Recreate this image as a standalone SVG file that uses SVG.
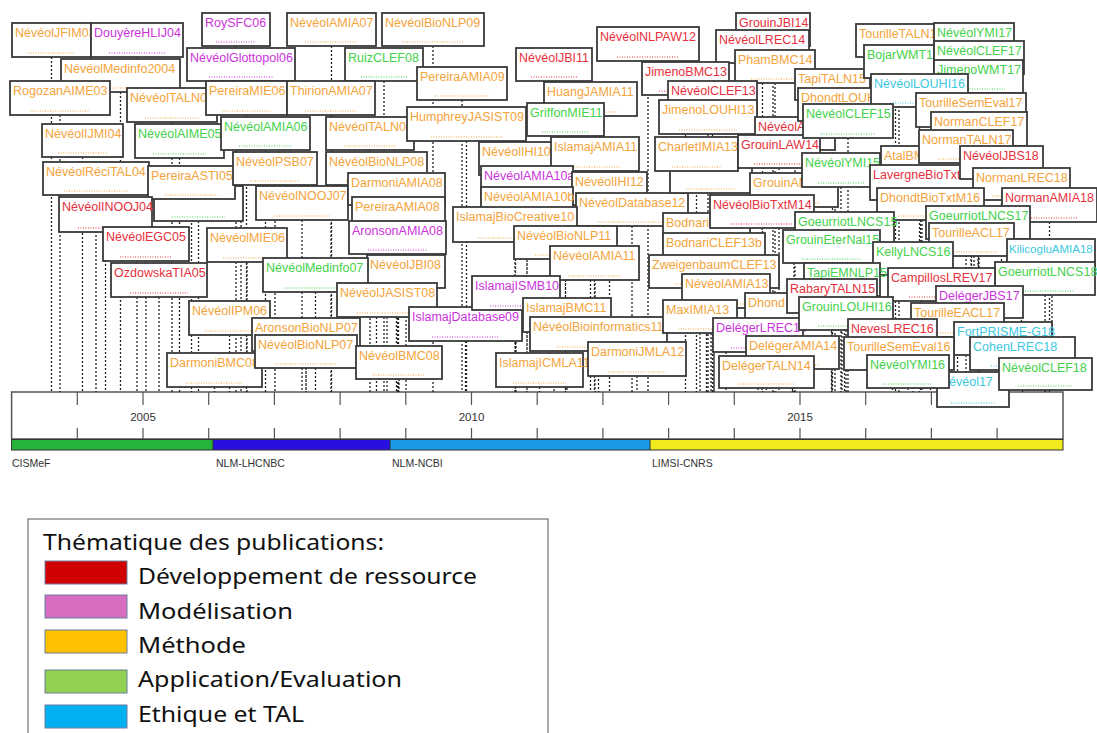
<svg xmlns="http://www.w3.org/2000/svg" width="1097" height="733" viewBox="0 0 1097 733">
<style>
.b rect{fill:#fff;stroke:#3a3a3a;stroke-width:1.8}
.b text{font-family:"Liberation Sans",Arial,sans-serif;font-size:12.5px}
.b line{stroke-width:1;stroke-dasharray:1 1.5}
.o text{fill:#f5a33a}.o line{stroke:#f5a33a}
.r text{fill:#e8303c}.r line{stroke:#e8303c}
.m text{fill:#cc33dd}.m line{stroke:#cc33dd}
.g text{fill:#44d24a}.g line{stroke:#44d24a}
.c text{fill:#3cc8e0}.c line{stroke:#3cc8e0}
.ax{font-family:"Liberation Sans",Arial,sans-serif;fill:#333}
.lg{font-family:"Noto Sans","Open Sans",sans-serif;font-size:21px;fill:#111}
.sw{stroke:#6b7fa0;stroke-width:1}
</style>
<rect width="1097" height="733" fill="#fff"/>
<g id="axis">
<rect x="11.6" y="392" width="1051.4" height="47" fill="#fff" stroke="#555" stroke-width="1.5"/>
<path d="M77.3 392V405M143 392V405M208.7 392V405M274.4 392V405M340.1 392V405M405.8 392V405M471.5 392V405M537.2 392V405M602.9 392V405M668.6 392V405M734.3 392V405M800 392V405M865.7 392V405M931.4 392V405M997.1 392V405M77.3 428V439M143 428V439M208.7 428V439M274.4 428V439M340.1 428V439M405.8 428V439M471.5 428V439M537.2 428V439M602.9 428V439M668.6 428V439M734.3 428V439M800 428V439M865.7 428V439M931.4 428V439M997.1 428V439" stroke="#555" stroke-width="1.2"/>
<text class="ax" x="143" y="421" font-size="11.5" text-anchor="middle">2005</text>
<text class="ax" x="471.5" y="421" font-size="11.5" text-anchor="middle">2010</text>
<text class="ax" x="800" y="421" font-size="11.5" text-anchor="middle">2015</text>
<rect x="11.6" y="439.5" width="201.4" height="10.5" fill="#25b53a"/>
<rect x="213" y="439.5" width="177" height="10.5" fill="#2a10e0"/>
<rect x="390" y="439.5" width="260" height="10.5" fill="#1a9be8"/>
<rect x="650" y="439.5" width="413" height="10.5" fill="#f2ea1c"/>
<rect x="11.6" y="439.5" width="1051.4" height="10.5" fill="none" stroke="#333" stroke-width="1"/>
<path d="M213 439.5V450M390 439.5V450M650 439.5V450" stroke="#333" stroke-width="1"/>
<text class="ax" x="12" y="467" font-size="10.5">CISMeF</text>
<text class="ax" x="216" y="467" font-size="10.5">NLM-LHCNBC</text>
<text class="ax" x="392" y="467" font-size="10.5">NLM-NCBI</text>
<text class="ax" x="652" y="467" font-size="10.5">LIMSI-CNRS</text>
</g>
<g id="connectors">
<path fill="none" stroke="#222" stroke-width="1.3" stroke-dasharray="2 2" d="M51.5 57V392M137 57V392M236 46V392M331.5 46V392M433 46V392M241 81V392M384 81V392M120.5 92V392M60 115V392M172 122V392M246.5 115V392M331 115V392M462 100V392M82.5 157V392M179.5 158V392M265.5 150V392M370 150V392M466.5 141V392M96 195V392M198.5 221V392M191.5 199V392M275 185V392M376.5 185V392M302 220V392M396.5 205V392M398.5 230V392M397.5 254V392M105.5 232V392M146 261V392M247 262V392M159 297V392M406 288V392M315.5 292V392M387 317V392M229.5 335V392M306 351V392M214.5 387V392M306 368V392M465.5 341V392M399 379V392M554 81V392M648 61V392M590.5 116V392M565.5 136V392M515.5 175V392M595 171V392M527 199V392M609.5 205V392M527 220V392M632 226V392M515 242V392M565.5 259V392M594.5 280V392M516 310V392M567 332V392M598.5 351V392M539.5 387V392M637 376V392M773 46V392M762.5 63V392M775 83V392M685.5 95V392M712.5 114V392M708 134V392M795 150V392M696.5 171V392M779 168V392M711 193V392M832.5 100V392M835 121V392M895.5 57V392M974 56V392M899 78V392M979 74V392M978.5 93V392M919.5 107V392M848 138V392M971 127V392M979 146V392M920.5 180V392M966 163V392M794 207V392M841 187V392M922 200V392M1001.5 179V392M1021.5 200V392M706.5 246V392M762 228V392M930.5 220V392M1049.5 222V392M844.5 245V392M714 266V392M978 239V392M971.5 256V392M831.5 263V392M1052 272V392M913 275V392M714 288V392M842 296V392M1045 295V392M941.5 301V392M726 308V392M832 313V392M792.5 327V392M979.5 318V392M700 333V392M758 352V392M846 330V392M957.5 337V392M892.5 352V392M792.5 369V392M1003 355V392M899 370V392M766.5 388V392M1022.5 370V392M908 388V392M1045.5 390V392"/>
</g>
<g id="n1" class="b o"><rect x="12" y="23" width="79" height="34"/><text x="15" y="37">NévéolJFIM03</text><line x1="28" y1="53" x2="75" y2="53"/></g>
<g id="n2" class="b m"><rect x="91" y="23" width="92" height="34"/><text x="94" y="37">DouyèreHLIJ04</text><line x1="109" y1="53" x2="165" y2="53"/></g>
<g id="n3" class="b m"><rect x="202" y="13" width="68" height="33"/><text x="205" y="27">RoySFC06</text><line x1="216" y1="42" x2="256" y2="42"/></g>
<g id="n4" class="b o"><rect x="287" y="13" width="89" height="33"/><text x="290" y="27">NévéolAMIA07</text><line x1="305" y1="42" x2="358" y2="42"/></g>
<g id="n5" class="b o"><rect x="382" y="13" width="102" height="33"/><text x="385" y="27">NévéolBioNLP09</text><line x1="402" y1="42" x2="464" y2="42"/></g>
<g id="n6" class="b m"><rect x="187" y="48" width="108" height="33"/><text x="190" y="62">NévéolGlottopol06</text><line x1="209" y1="77" x2="273" y2="77"/></g>
<g id="n7" class="b g"><rect x="345" y="48" width="78" height="33"/><text x="348" y="62">RuizCLEF08</text><line x1="361" y1="77" x2="407" y2="77"/></g>
<g id="n8" class="b o"><rect x="61" y="59" width="119" height="33"/><text x="64" y="73">NévéolMedinfo2004</text><line x1="85" y1="88" x2="156" y2="88"/></g>
<g id="n9" class="b o"><rect x="10" y="81" width="100" height="34"/><text x="13" y="95">RogozanAIME03</text><line x1="30" y1="111" x2="90" y2="111"/></g>
<g id="n10" class="b o"><rect x="127" y="88" width="90" height="34"/><text x="130" y="102">NévéolTALN04</text><line x1="145" y1="118" x2="199" y2="118"/></g>
<g id="n11" class="b o"><rect x="206" y="81" width="81" height="34"/><text x="209" y="95">PereiraMIE06</text><line x1="222" y1="111" x2="271" y2="111"/></g>
<g id="n12" class="b o"><rect x="287" y="81" width="88" height="34"/><text x="290" y="95">ThirionAMIA07</text><line x1="305" y1="111" x2="357" y2="111"/></g>
<g id="n13" class="b o"><rect x="417" y="67" width="90" height="33"/><text x="420" y="81">PereiraAMIA09</text><line x1="435" y1="96" x2="489" y2="96"/></g>
<g id="n14" class="b o"><rect x="42" y="124" width="81" height="33"/><text x="45" y="138">NévéolIJMI04</text><line x1="58" y1="153" x2="107" y2="153"/></g>
<g id="n15" class="b g"><rect x="135" y="124" width="89" height="34"/><text x="138" y="138">NévéolAIME05</text><line x1="153" y1="154" x2="206" y2="154"/></g>
<g id="n16" class="b g"><rect x="221" y="117" width="89" height="33"/><text x="224" y="131">NévéolAMIA06</text><line x1="239" y1="146" x2="292" y2="146"/></g>
<g id="n17" class="b o"><rect x="326" y="117" width="88" height="33"/><text x="329" y="131">NévéolTALN08</text><line x1="344" y1="146" x2="396" y2="146"/></g>
<g id="n18" class="b o"><rect x="407" y="107" width="119" height="34"/><text x="410" y="121">HumphreyJASIST09</text><line x1="431" y1="137" x2="502" y2="137"/></g>
<g id="n19" class="b o"><rect x="43" y="162" width="106" height="33"/><text x="46" y="176">NévéolRéciTAL04</text><line x1="64" y1="191" x2="128" y2="191"/></g>
<g id="n20" class="b g"><rect x="154" y="186" width="89" height="35"/><line x1="172" y1="217" x2="225" y2="217"/></g>
<g id="n21" class="b o"><rect x="148" y="166" width="87" height="33"/><text x="151" y="180">PereiraASTI05</text><line x1="165" y1="195" x2="218" y2="195"/></g>
<g id="n22" class="b o"><rect x="233" y="152" width="84" height="33"/><text x="236" y="166">NévéolPSB07</text><line x1="250" y1="181" x2="300" y2="181"/></g>
<g id="n23" class="b o"><rect x="326" y="152" width="101" height="33"/><text x="329" y="166">NévéolBioNLP08</text><line x1="346" y1="181" x2="407" y2="181"/></g>
<g id="n24" class="b o"><rect x="256" y="186" width="92" height="34"/><text x="259" y="200">NévéolNOOJ07</text><line x1="274" y1="216" x2="330" y2="216"/></g>
<g id="n25" class="b o"><rect x="348" y="173" width="97" height="32"/><text x="351" y="187">DarmoniAMIA08</text><line x1="367" y1="201" x2="426" y2="201"/></g>
<g id="n26" class="b o"><rect x="352" y="197" width="93" height="33"/><text x="355" y="211">PereiraAMIA08</text><line x1="371" y1="226" x2="426" y2="226"/></g>
<g id="n27" class="b m"><rect x="349" y="221" width="97" height="33"/><text x="352" y="235">AronsonAMIA08</text><line x1="368" y1="250" x2="427" y2="250"/></g>
<g id="n28" class="b r"><rect x="59" y="197" width="93" height="35"/><text x="62" y="211">NévéolINOOJ04</text><line x1="78" y1="228" x2="133" y2="228"/></g>
<g id="n29" class="b r"><rect x="103" y="227" width="86" height="34"/><text x="106" y="241">NévéolEGC05</text><line x1="120" y1="257" x2="172" y2="257"/></g>
<g id="n30" class="b o"><rect x="207" y="228" width="80" height="34"/><text x="210" y="242">NévéolMIE06</text><line x1="223" y1="258" x2="271" y2="258"/></g>
<g id="n31" class="b r"><rect x="111" y="263" width="96" height="34"/><text x="114" y="277">OzdowskaTIA05</text><line x1="130" y1="293" x2="188" y2="293"/></g>
<g id="n32" class="b o"><rect x="367" y="255" width="78" height="33"/><text x="370" y="269">NévéolJBI08</text><line x1="383" y1="284" x2="429" y2="284"/></g>
<g id="n33" class="b g"><rect x="263" y="258" width="105" height="34"/><text x="266" y="272">NévéolMedinfo07</text><line x1="284" y1="288" x2="347" y2="288"/></g>
<g id="n34" class="b o"><rect x="337" y="283" width="100" height="34"/><text x="340" y="297">NévéolJASIST08</text><line x1="357" y1="313" x2="417" y2="313"/></g>
<g id="n35" class="b o"><rect x="189" y="301" width="81" height="34"/><text x="192" y="315">NévéolIPM06</text><line x1="205" y1="331" x2="254" y2="331"/></g>
<g id="n36" class="b o"><rect x="252" y="318" width="108" height="33"/><text x="255" y="332">AronsonBioNLP07</text><line x1="274" y1="347" x2="338" y2="347"/></g>
<g id="n37" class="b o"><rect x="167" y="353" width="95" height="34"/><text x="170" y="367">DarmoniBMC08</text><line x1="186" y1="383" x2="243" y2="383"/></g>
<g id="n38" class="b o"><rect x="255" y="335" width="102" height="33"/><text x="258" y="349">NévéolBioNLP07</text><line x1="275" y1="364" x2="337" y2="364"/></g>
<g id="n39" class="b m"><rect x="409" y="307" width="113" height="34"/><text x="412" y="321">IslamajDatabase09</text><line x1="432" y1="337" x2="499" y2="337"/></g>
<g id="n40" class="b o"><rect x="356" y="346" width="86" height="33"/><text x="359" y="360">NévéolBMC08</text><line x1="373" y1="375" x2="425" y2="375"/></g>
<g id="n41" class="b r"><rect x="516" y="48" width="76" height="33"/><text x="519" y="62">NévéolJBI11</text><line x1="531" y1="77" x2="577" y2="77"/></g>
<g id="n42" class="b r"><rect x="597" y="27" width="102" height="34"/><text x="600" y="41">NévéolNLPAW12</text><line x1="617" y1="57" x2="679" y2="57"/></g>
<g id="n43" class="b o"><rect x="544" y="82" width="93" height="34"/><text x="547" y="96">HuangJAMIA11</text><line x1="563" y1="112" x2="618" y2="112"/></g>
<g id="n44" class="b g"><rect x="527" y="103" width="77" height="33"/><text x="530" y="117">GriffonMIE11</text><line x1="542" y1="132" x2="589" y2="132"/></g>
<g id="n45" class="b o"><rect x="479" y="142" width="73" height="33"/><text x="482" y="156">NévéolIHI10</text><line x1="494" y1="171" x2="537" y2="171"/></g>
<g id="n46" class="b o"><rect x="551" y="137" width="88" height="34"/><text x="554" y="151">IslamajAMIA11</text><line x1="569" y1="167" x2="621" y2="167"/></g>
<g id="n47" class="b m"><rect x="481" y="166" width="92" height="33"/><text x="484" y="180">NévéolAMIA10a</text><line x1="499" y1="195" x2="555" y2="195"/></g>
<g id="n48" class="b o"><rect x="572" y="172" width="75" height="33"/><text x="575" y="186">NévéolIHI12</text><line x1="587" y1="201" x2="632" y2="201"/></g>
<g id="n49" class="b o"><rect x="481" y="187" width="92" height="33"/><text x="484" y="201">NévéolAMIA10b</text><line x1="499" y1="216" x2="555" y2="216"/></g>
<g id="n50" class="b o"><rect x="576" y="193" width="112" height="33"/><text x="579" y="207">NévéolDatabase12</text><line x1="598" y1="222" x2="666" y2="222"/></g>
<g id="n51" class="b o"><rect x="453" y="207" width="124" height="35"/><text x="456" y="221">IslamajBioCreative10</text><line x1="478" y1="238" x2="552" y2="238"/></g>
<g id="n52" class="b o"><rect x="514" y="226" width="103" height="33"/><text x="517" y="240">NévéolBioNLP11</text><line x1="535" y1="255" x2="596" y2="255"/></g>
<g id="n53" class="b o"><rect x="550" y="246" width="89" height="34"/><text x="553" y="260">NévéolAMIA11</text><line x1="568" y1="276" x2="621" y2="276"/></g>
<g id="n54" class="b m"><rect x="472" y="276" width="88" height="34"/><text x="475" y="290">IslamajISMB10</text><line x1="490" y1="306" x2="542" y2="306"/></g>
<g id="n55" class="b o"><rect x="523" y="298" width="88" height="34"/><text x="526" y="312">IslamajBMC11</text><line x1="541" y1="328" x2="593" y2="328"/></g>
<g id="n56" class="b o"><rect x="530" y="317" width="137" height="34"/><text x="533" y="331">NévéolBioinformatics11</text><line x1="557" y1="347" x2="640" y2="347"/></g>
<g id="n57" class="b o"><rect x="496" y="353" width="87" height="34"/><text x="499" y="367">IslamajICMLA11</text><line x1="513" y1="383" x2="566" y2="383"/></g>
<g id="n58" class="b o"><rect x="588" y="342" width="98" height="34"/><text x="591" y="356">DarmoniJMLA12</text><line x1="608" y1="372" x2="666" y2="372"/></g>
<g id="n59" class="b r"><rect x="736" y="13" width="74" height="33"/><text x="739" y="27">GrouinJBI14</text><line x1="751" y1="42" x2="795" y2="42"/></g>
<g id="n60" class="b r"><rect x="716" y="30" width="93" height="33"/><text x="719" y="44">NévéolLREC14</text><line x1="735" y1="59" x2="790" y2="59"/></g>
<g id="n61" class="b o"><rect x="735" y="50" width="80" height="33"/><text x="738" y="64">PhamBMC14</text><line x1="751" y1="79" x2="799" y2="79"/></g>
<g id="n62" class="b r"><rect x="642" y="62" width="87" height="33"/><text x="645" y="76">JimenoBMC13</text><line x1="659" y1="91" x2="712" y2="91"/></g>
<g id="n63" class="b r"><rect x="668" y="81" width="89" height="33"/><text x="671" y="95">NévéolCLEF13</text><line x1="686" y1="110" x2="739" y2="110"/></g>
<g id="n64" class="b o"><rect x="659" y="100" width="98" height="34"/><text x="662" y="114">JimenoLOUHI13</text><line x1="679" y1="130" x2="737" y2="130"/></g>
<g id="n65" class="b r"><rect x="755" y="117" width="80" height="33"/><text x="758" y="131">NévéolAMIA14</text><line x1="771" y1="146" x2="819" y2="146"/></g>
<g id="n68" class="b o"><rect x="670" y="160" width="82" height="33"/><line x1="686" y1="189" x2="736" y2="189"/></g>
<g id="n66" class="b o"><rect x="655" y="137" width="83" height="34"/><text x="658" y="151">CharletIMIA13</text><line x1="672" y1="167" x2="721" y2="167"/></g>
<g id="n67" class="b r"><rect x="738" y="135" width="82" height="33"/><text x="741" y="149">GrouinLAW14</text><line x1="754" y1="164" x2="804" y2="164"/></g>
<g id="n69" class="b o"><rect x="795" y="69" width="75" height="31"/><text x="798" y="83">TapiTALN15</text><line x1="810" y1="96" x2="855" y2="96"/></g>
<g id="n70" class="b o"><rect x="798" y="88" width="74" height="33"/><text x="801" y="102">DhondtLOUHI15</text><line x1="813" y1="117" x2="857" y2="117"/></g>
<g id="n71" class="b o"><rect x="856" y="24" width="79" height="33"/><text x="859" y="38">TourilleTALN16</text><line x1="872" y1="53" x2="919" y2="53"/></g>
<g id="n72" class="b g"><rect x="934" y="23" width="80" height="33"/><text x="937" y="37">NévéolYMI17</text><line x1="950" y1="52" x2="998" y2="52"/></g>
<g id="n73" class="b g"><rect x="864" y="45" width="70" height="33"/><text x="867" y="59">BojarWMT16</text><line x1="878" y1="74" x2="920" y2="74"/></g>
<g id="n74" class="b g"><rect x="934" y="41" width="90" height="33"/><text x="937" y="55">NévéolCLEF17</text><line x1="952" y1="70" x2="1006" y2="70"/></g>
<g id="n75" class="b g"><rect x="934" y="60" width="89" height="33"/><text x="937" y="74">JimenoWMT17</text><line x1="952" y1="89" x2="1005" y2="89"/></g>
<g id="n76" class="b c"><rect x="871" y="74" width="97" height="33"/><text x="874" y="88">NévéolLOUHI16</text><line x1="890" y1="103" x2="949" y2="103"/></g>
<g id="n77" class="b g"><rect x="803" y="104" width="90" height="34"/><text x="806" y="118">NévéolCLEF15</text><line x1="821" y1="134" x2="875" y2="134"/></g>
<g id="n78" class="b o"><rect x="916" y="93" width="110" height="34"/><text x="919" y="107">TourilleSemEval17</text><line x1="938" y1="123" x2="1004" y2="123"/></g>
<g id="n79" class="b o"><rect x="931" y="112" width="96" height="34"/><text x="934" y="126">NormanCLEF17</text><line x1="950" y1="142" x2="1008" y2="142"/></g>
<g id="n80" class="b o"><rect x="881" y="146" width="79" height="34"/><text x="884" y="160">AtalBMC16</text><line x1="897" y1="176" x2="944" y2="176"/></g>
<g id="n81" class="b o"><rect x="919" y="130" width="94" height="33"/><text x="922" y="144">NormanTALN17</text><line x1="938" y1="159" x2="994" y2="159"/></g>
<g id="n82" class="b o"><rect x="750" y="173" width="88" height="34"/><text x="753" y="187">GrouinAMIA14</text><line x1="768" y1="203" x2="820" y2="203"/></g>
<g id="n83" class="b g"><rect x="802" y="153" width="78" height="34"/><text x="805" y="167">NévéolYMI15</text><line x1="818" y1="183" x2="864" y2="183"/></g>
<g id="n84" class="b r"><rect x="870" y="165" width="104" height="35"/><text x="873" y="179">LavergneBioTxtM16</text><line x1="891" y1="196" x2="953" y2="196"/></g>
<g id="n85" class="b r"><rect x="960" y="146" width="83" height="33"/><text x="963" y="160">NévéolJBS18</text><line x1="977" y1="175" x2="1026" y2="175"/></g>
<g id="n86" class="b o"><rect x="973" y="168" width="97" height="32"/><text x="976" y="182">NormanLREC18</text><line x1="992" y1="196" x2="1051" y2="196"/></g>
<g id="n87" class="b o"><rect x="663" y="213" width="87" height="33"/><text x="666" y="227">BodnariCLEF13a</text><line x1="680" y1="242" x2="733" y2="242"/></g>
<g id="n88" class="b r"><rect x="710" y="195" width="104" height="33"/><text x="713" y="209">NévéolBioTxtM14</text><line x1="731" y1="224" x2="793" y2="224"/></g>
<g id="n89" class="b o"><rect x="877" y="188" width="107" height="32"/><text x="880" y="202">DhondtBioTxtM16</text><line x1="898" y1="216" x2="963" y2="216"/></g>
<g id="n90" class="b r"><rect x="1002" y="188" width="95" height="34"/><text x="1005" y="202">NormanAMIA18</text><line x1="1021" y1="218" x2="1078" y2="218"/></g>
<g id="n91" class="b g"><rect x="795" y="212" width="99" height="33"/><text x="798" y="226">GoeurriotLNCS15</text><line x1="815" y1="241" x2="874" y2="241"/></g>
<g id="n92" class="b o"><rect x="663" y="233" width="102" height="33"/><text x="666" y="247">BodnariCLEF13b</text><line x1="683" y1="262" x2="745" y2="262"/></g>
<g id="n93" class="b g"><rect x="926" y="206" width="104" height="33"/><text x="929" y="220">GoeurriotLNCS17</text><line x1="947" y1="235" x2="1009" y2="235"/></g>
<g id="n94" class="b o"><rect x="929" y="223" width="85" height="33"/><text x="932" y="237">TourilleACL17</text><line x1="946" y1="252" x2="997" y2="252"/></g>
<g id="n95" class="b g"><rect x="783" y="230" width="97" height="33"/><text x="786" y="244">GrouinEterNal15</text><line x1="802" y1="259" x2="861" y2="259"/></g>
<g id="n96" class="b c"><rect x="1007" y="239" width="88" height="33"/><text x="1009" y="253" style="font-size:11.5px">KilicogluAMIA18</text><line x1="1025" y1="268" x2="1077" y2="268"/></g>
<g id="n97" class="b g"><rect x="873" y="242" width="80" height="33"/><text x="876" y="256">KellyLNCS16</text><line x1="889" y1="271" x2="937" y2="271"/></g>
<g id="n98" class="b o"><rect x="649" y="255" width="130" height="33"/><text x="652" y="269">ZweigenbaumCLEF13</text><line x1="675" y1="284" x2="753" y2="284"/></g>
<g id="n99" class="b g"><rect x="804" y="263" width="76" height="33"/><text x="807" y="277">TapiEMNLP15</text><line x1="819" y1="292" x2="865" y2="292"/></g>
<g id="n100" class="b g"><rect x="995" y="262" width="100" height="33"/><text x="998" y="276">GoeurriotLNCS18</text><line x1="1015" y1="291" x2="1075" y2="291"/></g>
<g id="n101" class="b r"><rect x="888" y="268" width="107" height="33"/><text x="891" y="282">CampillosLREV17</text><line x1="909" y1="297" x2="974" y2="297"/></g>
<g id="n102" class="b o"><rect x="682" y="274" width="88" height="34"/><text x="685" y="288">NévéolAMIA13</text><line x1="700" y1="304" x2="752" y2="304"/></g>
<g id="n104" class="b o"><rect x="745" y="293" width="95" height="34"/><text x="748" y="307">Dhond</text><line x1="764" y1="323" x2="821" y2="323"/></g>
<g id="n103" class="b r"><rect x="787" y="279" width="90" height="34"/><text x="790" y="293">RabaryTALN15</text><line x1="805" y1="309" x2="859" y2="309"/></g>
<g id="n105" class="b m"><rect x="936" y="286" width="87" height="32"/><text x="939" y="300">DelégerJBS17</text><line x1="953" y1="314" x2="1006" y2="314"/></g>
<g id="n106" class="b o"><rect x="663" y="300" width="74" height="33"/><text x="666" y="314">MaxIMIA13</text><line x1="678" y1="329" x2="722" y2="329"/></g>
<g id="n107" class="b m"><rect x="713" y="318" width="90" height="34"/><text x="716" y="332">DelégerLREC14</text><line x1="731" y1="348" x2="785" y2="348"/></g>
<g id="n108" class="b g"><rect x="799" y="297" width="94" height="33"/><text x="802" y="311">GrouinLOUHI16</text><line x1="818" y1="326" x2="874" y2="326"/></g>
<g id="n109" class="b o"><rect x="911" y="303" width="93" height="34"/><text x="914" y="317">TourilleEACL17</text><line x1="930" y1="333" x2="985" y2="333"/></g>
<g id="n110" class="b r"><rect x="848" y="319" width="89" height="33"/><text x="851" y="333">NevesLREC16</text><line x1="866" y1="348" x2="919" y2="348"/></g>
<g id="n111" class="b o"><rect x="746" y="336" width="93" height="33"/><text x="749" y="350">DelégerAMIA14</text><line x1="765" y1="365" x2="820" y2="365"/></g>
<g id="n112" class="b c"><rect x="954" y="322" width="98" height="33"/><text x="957" y="336">FortPRISME-G18</text><line x1="974" y1="351" x2="1032" y2="351"/></g>
<g id="n113" class="b o"><rect x="844" y="337" width="110" height="33"/><text x="847" y="351">TourilleSemEval16</text><line x1="866" y1="366" x2="932" y2="366"/></g>
<g id="n114" class="b c"><rect x="937" y="372" width="72" height="35"/><text x="940" y="386">Névéol17</text><line x1="951" y1="403" x2="995" y2="403"/></g>
<g id="n115" class="b o"><rect x="719" y="356" width="95" height="32"/><text x="722" y="370">DelégerTALN14</text><line x1="738" y1="384" x2="795" y2="384"/></g>
<g id="n116" class="b c"><rect x="970" y="337" width="105" height="33"/><text x="973" y="351">CohenLREC18</text><line x1="991" y1="366" x2="1054" y2="366"/></g>
<g id="n117" class="b g"><rect x="867" y="355" width="82" height="33"/><text x="870" y="369">NévéolYMI16</text><line x1="883" y1="384" x2="933" y2="384"/></g>
<g id="n118" class="b g"><rect x="999" y="358" width="93" height="32"/><text x="1002" y="372">NévéolCLEF18</text><line x1="1018" y1="386" x2="1073" y2="386"/></g>
<g id="legend">
<rect x="28" y="519" width="520" height="230" fill="#fff" stroke="#555" stroke-width="1"/>
<text class="lg" x="43" y="550" textLength="341" lengthAdjust="spacingAndGlyphs">Thématique des publications:</text>
<rect class="sw" x="45" y="561" width="82" height="23" fill="#d00000"/>
<text class="lg" x="138" y="584" textLength="339" lengthAdjust="spacingAndGlyphs">Développement de ressource</text>
<rect class="sw" x="45" y="595" width="82" height="23" fill="#d86cc0"/>
<text class="lg" x="138" y="619" textLength="155" lengthAdjust="spacingAndGlyphs">Modélisation</text>
<rect class="sw" x="45" y="630" width="82" height="23" fill="#ffc000"/>
<text class="lg" x="138" y="653" textLength="108" lengthAdjust="spacingAndGlyphs">Méthode</text>
<rect class="sw" x="45" y="670" width="82" height="23" fill="#92d050"/>
<text class="lg" x="138" y="687" textLength="264" lengthAdjust="spacingAndGlyphs">Application/Evaluation</text>
<rect class="sw" x="45" y="705" width="82" height="23" fill="#00b0f0"/>
<text class="lg" x="138" y="722" textLength="166" lengthAdjust="spacingAndGlyphs">Ethique et TAL</text>
</g>
</svg>
